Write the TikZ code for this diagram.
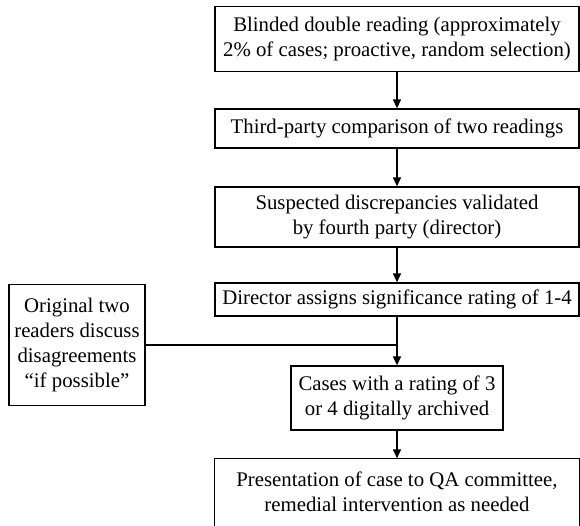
\documentclass[tikz,border=0pt]{standalone}
\usepackage{fontspec}
\setmainfont{Liberation Serif}
\usetikzlibrary{arrows.meta}
\begin{document}
\begin{tikzpicture}[x=1pt,y=-1pt,
  box/.style={draw, line width=1.3pt, inner sep=0pt, align=center,
    font=\fontsize{20.8}{25}\selectfont, anchor=center},
  arr/.style={line width=1.3pt, -{Triangle[length=9pt,width=8pt]}},
  ln/.style={line width=1.3pt}]
\useasboundingbox (0,0) rectangle (580,525);
\node[box, minimum width=364pt, minimum height=65pt] (b1) at (397,39)
  {Blinded double reading (approximately\\2\% of cases; proactive, random selection)};
\node[box, minimum width=364pt, minimum height=39pt] (b2) at (397,128.5)
  {Third-party comparison of two readings};
\node[box, minimum width=364pt, minimum height=60pt] (b3) at (397,217)
  {Suspected discrepancies validated\\by fourth party (director)};
\node[box, minimum width=364pt, minimum height=33pt] (b4) at (397,299.5)
  {Director assigns significance rating of 1-4};
\node[box, minimum width=212pt, minimum height=64pt] (b5) at (397,398)
  {Cases with a rating of 3\\or 4 digitally archived};
\node[box, draw=none, minimum width=364pt, minimum height=66pt] (b6) at (397,492)
  {Presentation of case to QA committee,\\remedial intervention as needed};
\draw[ln] (b6.south west) -- (b6.north west) -- (b6.north east) -- (b6.south east);
\node[box, minimum width=136pt, minimum height=121pt] (l1) at (77,345)
  {Original two\\readers discuss\\disagreements\\“if possible”};
\draw[arr] (b1.south) -- (b2.north);
\draw[arr] (b2.south) -- (b3.north);
\draw[arr] (b3.south) -- (b4.north);
\draw[arr] (b4.south) -- (b5.north);
\draw[arr] (b5.south) -- (b6.north);
\draw[ln] (l1.east) -- (l1.east -| b4.south);
\end{tikzpicture}
\end{document}
